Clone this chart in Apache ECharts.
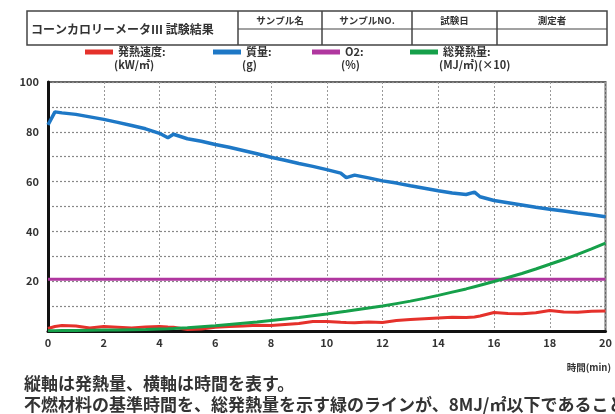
<!DOCTYPE html>
<html><head><meta charset="utf-8">
<script src="https://cdn.jsdelivr.net/npm/echarts@6/dist/echarts.min.js"></script>
<style>html,body{margin:0;padding:0;background:#fff;}#c{width:615px;height:414px;}</style>
</head><body><div id="c"></div>
<script>
var titleText = 'コーンカロリーメータⅢ 試験結果';
var headerLabels = ['サンプル名', 'サンプルNO.', '試験日', '測定者'];
var seriesNames = ['発熱速度', '質量', 'O2', '総発熱量'];
var seriesUnits = ['(kW/㎡)', '(g)', '(%)', '(MJ/㎡)(×10)'];
var xTicks = [0, 2, 4, 6, 8, 10, 12, 14, 16, 18, 20];
var yTickLabels = [20, 40, 60, 80, 100];
var xAxisName = '時間(min)';
var noteLines = ['縦軸は発熱量、横軸は時間を表す。', '不燃材料の基準時間を、総発熱量を示す緑のラインが、8MJ/㎡以下であること。'];

var times = [0, 0.25, 0.5, 1, 1.5, 2, 2.5, 3, 3.5, 4, 4.3, 4.5, 5, 5.5, 6, 6.5, 7, 7.5, 8, 8.5, 9, 9.5, 10, 10.5, 10.7, 11, 11.5, 12, 12.5, 13, 13.5, 14, 14.5, 15, 15.3, 15.5, 16, 16.5, 17, 17.5, 18, 18.5, 19, 19.5, 20];
var heatRate = [1.0, 1.8, 2.2, 2.0, 1.2, 1.8, 1.5, 1.2, 1.6, 1.8, 1.6, 1.5, 0.6, 0.8, 1.5, 1.8, 2.0, 2.3, 2.2, 2.6, 3.0, 3.8, 3.8, 3.5, 3.4, 3.3, 3.6, 3.4, 4.2, 4.6, 4.9, 5.2, 5.5, 5.4, 5.6, 6.0, 7.4, 7.0, 6.9, 7.3, 8.2, 7.6, 7.5, 7.9, 8.0];
var mass = [82.8, 88.0, 87.6, 87.0, 86.0, 85.0, 83.8, 82.5, 81.2, 79.4, 77.6, 79.0, 77.2, 76.2, 74.9, 73.8, 72.5, 71.2, 69.8, 68.6, 67.3, 66.1, 64.8, 63.4, 61.6, 62.6, 61.5, 60.3, 59.4, 58.3, 57.3, 56.3, 55.4, 54.8, 55.8, 53.9, 52.4, 51.5, 50.6, 49.7, 48.9, 48.2, 47.4, 46.7, 45.9];
var oxygen = [20.8, 20.8, 20.8, 20.8, 20.8, 20.8, 20.8, 20.8, 20.8, 20.8, 20.8, 20.8, 20.8, 20.8, 20.8, 20.8, 20.8, 20.8, 20.8, 20.8, 20.8, 20.8, 20.8, 20.8, 20.8, 20.8, 20.8, 20.8, 20.8, 20.8, 20.8, 20.8, 20.8, 20.8, 20.8, 20.8, 20.8, 20.8, 20.8, 20.8, 20.8, 20.8, 20.8, 20.8, 20.8];
var totalHeat = [0.1, 0.1, 0.2, 0.2, 0.3, 0.4, 0.4, 0.5, 0.6, 0.8, 0.9, 1.0, 1.3, 1.7, 2.1, 2.6, 3.1, 3.6, 4.2, 4.8, 5.4, 6.1, 6.8, 7.6, 7.9, 8.4, 9.2, 10.0, 11.0, 12.0, 13.1, 14.3, 15.6, 16.9, 17.8, 18.4, 19.9, 21.5, 23.1, 24.9, 26.8, 28.7, 30.8, 33.0, 35.3];

var colors = ['#e5312b', '#1e78c6', '#b0379f', '#16a04a'];
var valueSets = [heatRate, mass, oxygen, totalHeat];
var FONT = '"Noto Sans CJK JP", sans-serif';

function pairs(vals) { return times.map(function (t, i) { return [t, vals[i]]; }); }

var series = seriesNames.map(function (n, i) {
  return {
    name: n, type: 'line', showSymbol: false, symbol: 'none', animation: false,
    data: pairs(valueSets[i]),
    lineStyle: { color: colors[i], width: i === 1 ? 3.5 : 3 },
    itemStyle: { color: colors[i] },
    z: [3, 4, 2, 3][i]
  };
});

var legendLeft = [80, 208, 307, 405];
var legends = seriesNames.map(function (n, i) {
  return {
    left: legendLeft[i], top: 40, data: [{ name: n, icon: 'rect' }], orient: 'horizontal',
    itemWidth: 28, itemHeight: 5, itemGap: 6,
    selectedMode: false,
    formatter: function (name) { return name + ':'; },
    textStyle: { fontFamily: FONT, fontSize: 11, fontWeight: 'bold', color: '#333', lineHeight: 14 }
  };
});

var g = [];
g.push({ type: 'rect', shape: { x: 27, y: 11, width: 580, height: 34 }, style: { stroke: '#444', lineWidth: 1.5, fill: 'none' } });
var colX = [238, 322, 412, 497, 607];
for (var k = 0; k < 4; k++) {
  g.push({ type: 'line', shape: { x1: colX[k], y1: 11, x2: colX[k], y2: 45 }, style: { stroke: '#444', lineWidth: 1.5 } });
  g.push({ type: 'text', x: (colX[k] + colX[k + 1]) / 2, y: 20, style: { text: headerLabels[k], fontFamily: FONT, fontSize: 9.5, fontWeight: 'bold', fill: '#333', align: 'center', verticalAlign: 'middle' } });
}
g.push({ type: 'line', shape: { x1: 238, y1: 29, x2: 607, y2: 29 }, style: { stroke: '#444', lineWidth: 1.2 } });
g.push({ type: 'text', x: 31, y: 29, style: { text: titleText, fontFamily: FONT, fontSize: 12, fontWeight: 'bold', fill: '#333', verticalAlign: 'middle' } });
for (var u = 0; u < 4; u++) {
  g.push({ type: 'text', x: legendLeft[u] + 34, y: 65, style: { text: seriesUnits[u], fontFamily: FONT, fontSize: 11, fontWeight: 'bold', fill: '#333', verticalAlign: 'middle' } });
}
g.push({ type: 'text', right: 4, top: 363, style: { text: xAxisName, fontFamily: FONT, fontSize: 9.5, fontWeight: 'bold', fill: '#333' } });
g.push({ type: 'text', left: 24, top: 375, style: { text: noteLines[0], fontFamily: FONT, fontSize: 17, fontWeight: 'bold', fill: '#333' } });
g.push({ type: 'text', left: 24, top: 396, style: { text: noteLines[1], fontFamily: FONT, fontSize: 17, fontWeight: 'bold', fill: '#333' } });

var chart = echarts.init(document.getElementById('c'), null, { renderer: 'canvas' });
chart.setOption({
  backgroundColor: '#fff',
  animation: false,
  legend: legends,
  grid: { left: 48, right: 9, top: 82, bottom: 83, show: true, borderColor: '#666', borderWidth: 2, backgroundColor: 'transparent' },
  xAxis: {
    type: 'value', min: 0, max: 20, interval: 2,
    axisLine: { show: true, onZero: false, lineStyle: { color: '#111', width: 3 } },
    axisTick: { show: false },
    axisLabel: { color: '#333', fontFamily: FONT, fontSize: 11, fontWeight: 'bold', margin: 6,
      formatter: function (v) { return xTicks.indexOf(v) >= 0 ? String(v) : ''; } },
    splitLine: { show: true, lineStyle: { color: '#999', type: [2, 2], width: 1 } }
  },
  yAxis: {
    type: 'value', min: 0, max: 100, interval: 10,
    axisLine: { show: true, lineStyle: { color: '#111', width: 3 } },
    axisTick: { show: false },
    axisLabel: { color: '#333', fontFamily: FONT, fontSize: 11, fontWeight: 'bold', margin: 9,
      formatter: function (v) { return yTickLabels.indexOf(v) >= 0 ? String(v) : ''; } },
    splitLine: { show: true, lineStyle: { color: '#888', type: [2, 2], width: 1.2 } }
  },
  graphic: g,
  series: series
});
</script></body></html>
